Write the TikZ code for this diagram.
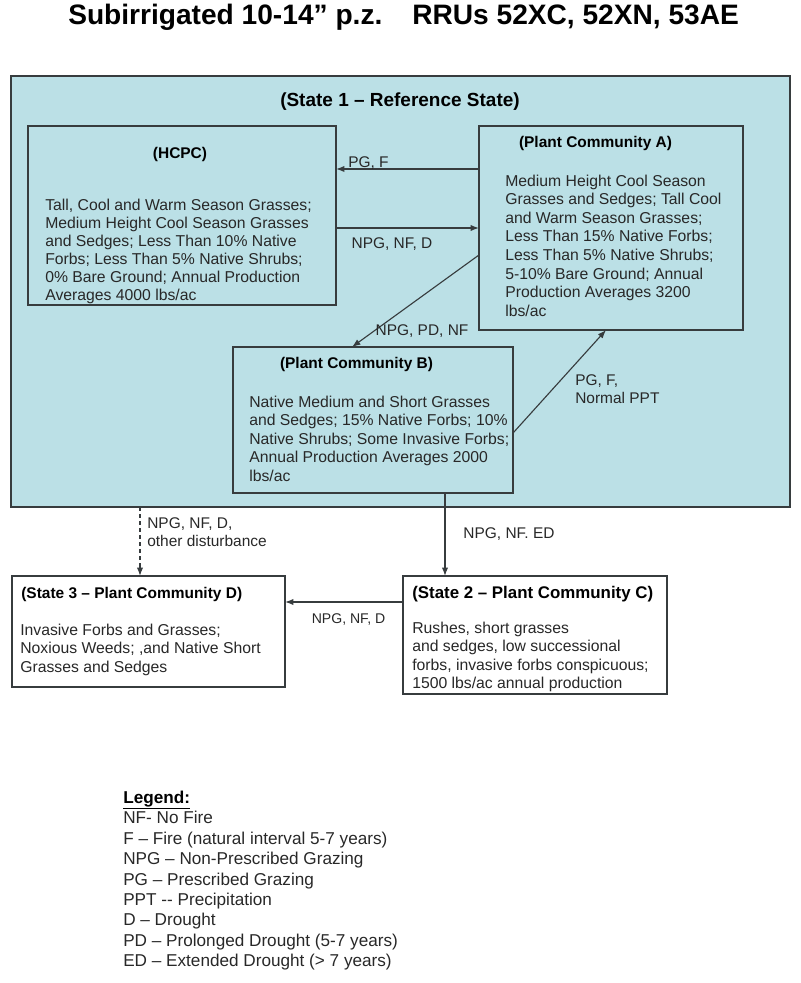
\documentclass[tikz,border=0pt]{standalone}
\usepackage{fontspec}
\setmainfont{Liberation Sans}
\usetikzlibrary{arrows.meta}

\definecolor{statebg}{RGB}{187,224,230}
\definecolor{boxline}{RGB}{55,60,62}
\definecolor{txtgray}{RGB}{40,40,40}

\newcommand\titlefont{\fontsize{20}{24}\selectfont\bfseries}
\newcommand\statefont{\fontsize{13.5}{16}\selectfont\bfseries}
\newcommand\headfont{\fontsize{11}{13}\selectfont\bfseries}
\newcommand\boxtxt{\fontsize{11.2}{13.2}\selectfont}
\newcommand\lblfont{\fontsize{11}{13}\selectfont}
\newcommand\legtxt{\fontsize{12.2}{14.53}\selectfont}

\tikzset{
  statebox/.style={draw=boxline, line width=1.1pt, fill=statebg, inner sep=0pt, outer sep=0pt},
  plainbox/.style={draw=boxline, line width=1pt, fill=white, inner sep=0pt, outer sep=0pt},
  bodytxt/.style={anchor=north west, align=left, inner sep=0pt, text=txtgray, font=\boxtxt},
  headtxt/.style={anchor=base, inner sep=0pt, font=\headfont},
  lbl/.style={anchor=base, inner sep=0pt, text=txtgray, font=\lblfont},
  trans/.style={-{Latex[length=6pt,width=4.5pt]}, line width=0.8pt, draw=boxline},
}

\begin{document}
\begin{tikzpicture}[x=0.025cm, y=-0.025cm]
	\useasboundingbox (0,0) rectangle (800,983);
	
	%title
	\node[anchor=base west, inner sep=0pt, font=\titlefont] (titlea) at (68,25) {Subirrigated 10-14” p.z.};
	\node[anchor=base west, inner sep=0pt, font=\titlefont] (titleb) at (412,25) {RRUs 52XC, 52XN, 53AE};
	
	%state 1 and its plant communities
	\node[statebox, minimum width=19.475cm, minimum height=10.775cm] (state1) at (400.5,291.5) {};
	\node[anchor=base, inner sep=0pt, font=\statefont] (state1head) at (400,107) {(State 1 -- Reference State)};
	\node[statebox, minimum width=7.7cm, minimum height=4.475cm] (hcpc) at (182,215.5) {};
	\node[statebox, minimum width=6.6cm, minimum height=5.1cm] (pca) at (611,228) {};
	\node[statebox, minimum width=7cm, minimum height=3.65cm] (pcb) at (373,420) {};
	
	%states 2 and 3
	\node[plainbox, minimum width=6.6cm, minimum height=2.95cm] (pcc) at (535,635) {};
	\node[plainbox, minimum width=6.825cm, minimum height=2.775cm] (pcd) at (148.5,631.5) {};
	
	%box headings
	\node[headtxt] (hcpchead) at (180,158.5) {(HCPC)};
	\node[headtxt] (pcahead) at (595.5,147.5) {(Plant Community A)};
	\node[headtxt] (pcbhead) at (356.5,368.5) {(Plant Community B)};
	\node[headtxt, anchor=base west] (pcdhead) at (21,598.5) {(State 3 -- Plant Community D)};
	\node[headtxt, anchor=base west, font=\fontsize{12}{14}\selectfont\bfseries] (pcchead) at (412,598) {(State 2 -- Plant Community C)};
	
	%box texts
	\node[bodytxt, font=\fontsize{11.2}{12.9}\selectfont] (hcpctxt) at (45,198.5) {Tall, Cool and Warm Season Grasses;\\Medium Height Cool Season Grasses\\and Sedges; Less Than 10\% Native\\Forbs; Less Than 5\% Native Shrubs;\\0\% Bare Ground; Annual Production\\Averages 4000 lbs/ac};
	\node[bodytxt] (pcatxt) at (505,174.5) {Medium Height Cool Season\\Grasses and Sedges; Tall Cool\\and Warm Season Grasses;\\Less Than 15\% Native Forbs;\\Less Than 5\% Native Shrubs;\\5-10\% Bare Ground; Annual\\Production Averages 3200\\lbs/ac};
	\node[bodytxt] (pcbtxt) at (249,395.5) {Native Medium and Short Grasses\\and Sedges; 15\% Native Forbs; 10\%\\Native Shrubs; Some Invasive Forbs;\\Annual Production Averages 2000\\lbs/ac};
	\node[bodytxt] (pcctxt) at (412,621.5) {Rushes, short grasses\\and sedges, low successional\\forbs, invasive forbs conspicuous;\\1500 lbs/ac annual production};
	\node[bodytxt] (pcdtxt) at (20,623.5) {Invasive Forbs and Grasses;\\Noxious Weeds; ,and Native Short\\Grasses and Sedges};
	
	%helper rows and columns for the connectors
	\foreach \n / \x / \y in {rowpgf/0/169, rowpd/0/255, rowppt/0/433, rowcd/0/602, colpd/352/0, colppt/606/0, coled/445/0, coldist/140/0}
	\coordinate (\n) at (\x,\y);
	
	%draw the transitions
	\draw[trans] (pca.west |- rowpgf) -- (hcpc.east |- rowpgf);
	\draw[trans] (hcpc.east |- pca.west) -- (pca.west);
	\draw[trans] (pca.west |- rowpd) -- (pcb.north -| colpd);
	\draw[trans] (pcb.east |- rowppt) -- (pca.south -| colppt);
	\draw[trans] (pcb.south -| coled) -- (pcc.north -| coled);
	\draw[trans, dash pattern=on 3pt off 2pt] (state1.south -| coldist) -- (pcd.north -| coldist);
	\draw[trans] (pcc.west |- rowcd) -- (pcd.east |- rowcd);
	
	%transition labels
	\node[lbl] (lblpgf) at (368.5,167.5) {PG, F};
	\node[lbl] (lblnpg) at (392,248.5) {NPG, NF, D};
	\node[lbl] (lblpd) at (422,335.5) {NPG, PD, NF};
	\node[lbl, anchor=north west, align=left] (lblppt) at (575,374.5) {PG, F,\\Normal PPT};
	\node[lbl] (lbled) at (509,538.5) {NPG, NF. ED};
	\node[lbl, anchor=north west, align=left] (lbldist) at (147,517.5) {NPG, NF, D,\\other disturbance};
	\node[lbl, font=\fontsize{10}{12}\selectfont] (lblcd) at (348.5,623) {NPG, NF, D};
	
	%legend
	\node[anchor=base west, inner sep=0pt, font=\legtxt\bfseries] (leghead) at (123,803) {\underline{Legend:}};
	\node[anchor=north west, align=left, inner sep=0pt, text=txtgray, font=\legtxt] (legtxt) at (123,811) {NF- No Fire\\F -- Fire (natural interval 5-7 years)\\NPG -- Non-Prescribed Grazing\\PG -- Prescribed Grazing\\PPT -{}- Precipitation\\D -- Drought\\PD -- Prolonged Drought (5-7 years)\\ED -- Extended Drought (> 7 years)};
\end{tikzpicture}
\end{document}
